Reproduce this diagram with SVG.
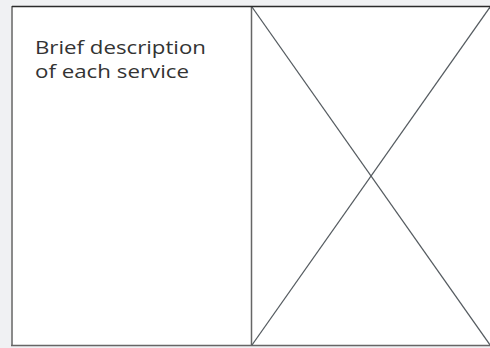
<svg xmlns="http://www.w3.org/2000/svg" width="490" height="348" viewBox="0 0 490 348">
<style>
.bg{fill:#f0f1f3}
.panel{fill:#ffffff}
.edge{stroke:#555b60;stroke-width:1.3;fill:none}
.lbl{font-family:"Open Sans","Liberation Sans",sans-serif;font-size:18.5px;fill:#333333}
</style>
<rect class="bg" x="0" y="0" width="490" height="348"/>
<g id="desc">
<rect class="panel" x="12" y="6" width="239" height="339"/>
<line x1="12" y1="6" x2="12" y2="345.5" stroke="#8a8a8a" stroke-width="2"/>
<line x1="11" y1="345.5" x2="251" y2="345.5" stroke="#666" stroke-width="1.5"/>
<text class="lbl" x="35" y="54" textLength="171" lengthAdjust="spacingAndGlyphs">Brief description</text>
<text class="lbl" x="35" y="78" textLength="154" lengthAdjust="spacingAndGlyphs">of each service</text>
</g>
<g id="image">
<rect class="panel" x="251" y="6" width="239" height="339"/>
<line x1="251.5" y1="6" x2="251.5" y2="345" stroke="#666" stroke-width="1.5"/>
<line x1="251" y1="345.5" x2="490" y2="345.5" stroke="#666" stroke-width="1.5"/>
</g>
<g id="connectors">
<line class="edge" x1="252" y1="7" x2="490" y2="345"/>
<line class="edge" x1="490" y1="7" x2="252" y2="345"/>
</g>
<line x1="12" y1="6.5" x2="490" y2="6.5" stroke="#2b2b2b" stroke-width="1.5"/>
</svg>
